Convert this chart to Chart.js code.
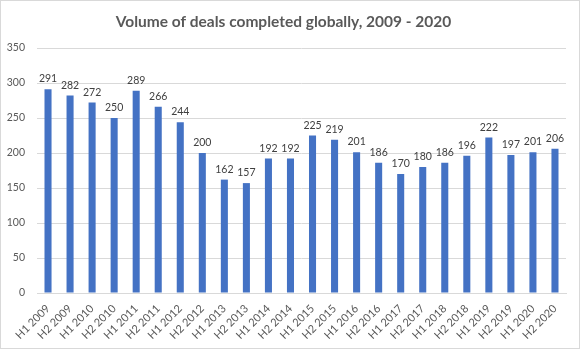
<!DOCTYPE html>
<html>
<head>
<meta charset="utf-8">
<script src="https://cdn.jsdelivr.net/npm/chart.js@4"></script>
<style>
  html, body { margin: 0; padding: 0; background: #fff; }
  #frame { width: 578px; height: 347px; border: 1px solid #d9d9d9; position: relative; }
  canvas { display: block; }
</style>
</head>
<body>
<div id="frame"><canvas id="chart" width="578" height="347"></canvas></div>
<script>
const periods = [
  "H1 2009", "H2 2009", "H1 2010", "H2 2010", "H1 2011", "H2 2011",
  "H1 2012", "H2 2012", "H1 2013", "H2 2013", "H1 2014", "H2 2014",
  "H1 2015", "H2 2015", "H1 2016", "H2 2016", "H1 2017", "H2 2017",
  "H1 2018", "H2 2018", "H1 2019", "H2 2019", "H1 2020", "H2 2020"
];
const dealVolumes = [
  291, 282, 272, 250, 289, 266, 244, 200, 162, 157, 192, 192,
  225, 219, 201, 186, 170, 180, 186, 196, 222, 197, 201, 206
];
const yTicks = [0, 50, 100, 150, 200, 250, 300, 350];

const fontFamily = "Lato, 'Open Sans', sans-serif";

// Writes each bar's value just above it
const valueLabels = {
  id: 'valueLabels',
  afterDatasetsDraw(chart) {
    const ctx = chart.ctx;
    const meta = chart.getDatasetMeta(0);
    ctx.save();
    ctx.font = "10.5px " + fontFamily;
    ctx.fillStyle = '#404040';
    ctx.textAlign = 'center';
    ctx.textBaseline = 'alphabetic';
    meta.data.forEach((bar, i) => {
      ctx.fillText(String(dealVolumes[i]), bar.x, bar.y - 7);
    });
    ctx.restore();
  }
};

new Chart(document.getElementById('chart'), {
  type: 'bar',
  data: {
    labels: periods,
    datasets: [{
      data: dealVolumes,
      backgroundColor: '#4472C4',
      categoryPercentage: 1,
      barPercentage: 0.32
    }]
  },
  options: {
    responsive: false,
    animation: false,
    layout: { padding: { left: 0, right: 13, top: 0, bottom: 6 } },
    plugins: {
      legend: { display: false },
      tooltip: { enabled: false },
      title: {
        display: true,
        text: 'Volume of deals completed globally, 2009 - 2020',
        color: '#595959',
        font: { family: fontFamily, size: 15.5, weight: 'bold', lineHeight: 1.2 },
        padding: { top: 12, bottom: 16.4 }
      }
    },
    scales: {
      x: {
        grid: { display: false, drawTicks: false },
        border: { color: '#d9d9d9' },
        ticks: {
          color: '#595959',
          font: { family: fontFamily, size: 11 },
          maxRotation: 45,
          minRotation: 45,
          autoSkip: false,
          padding: 9
        },
        afterFit(scale) {
          scale.height = 49;
          scale.paddingLeft = 0;
          scale.paddingRight = 0;
        }
      },
      y: {
        min: 0,
        max: 350,
        afterBuildTicks(scale) {
          scale.ticks = yTicks.map(v => ({ value: v }));
        },
        grid: { color: '#d9d9d9', drawTicks: false },
        border: { display: false },
        ticks: {
          color: '#595959',
          font: { family: fontFamily, size: 10.5 },
          padding: 12
        },
        afterFit(scale) {
          scale.width = 36;
          scale.paddingTop = 0;
          scale.paddingBottom = 0;
        }
      }
    }
  },
  plugins: [valueLabels]
});
</script>
</body>
</html>
